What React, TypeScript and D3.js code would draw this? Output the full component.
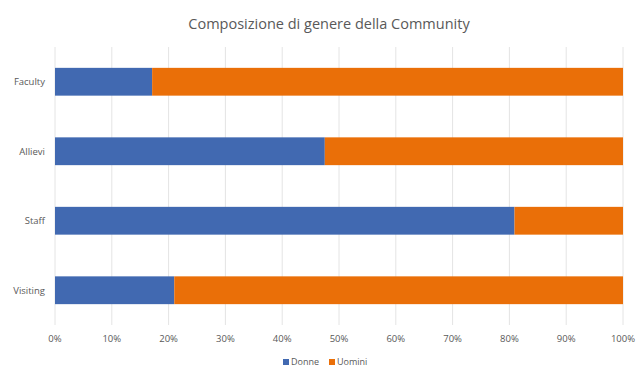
import React from "react";
import * as d3 from "d3";

const categories = ["Faculty", "Allievi", "Staff", "Visiting"];
const donne = [17.1, 47.5, 80.9, 21.0];
const uomini = [82.9, 52.5, 19.1, 79.0];
const seriesNames = ["Donne", "Uomini"];
const seriesColors = ["#4169B1", "#EA6F08"];
const ticks = [0, 10, 20, 30, 40, 50, 60, 70, 80, 90, 100];
const title = "Composizione di genere della Community";

export default function App() {
  const W = 636, H = 368;
  const x = d3.scaleLinear().domain([0, 100]).range([55, 623]);
  const y = d3.scaleBand().domain(categories).range([47, 325]).paddingInner(0.6).paddingOuter(0.3);
  const font = "'Open Sans', 'Noto Sans', sans-serif";
  const rows = categories.map((c, i) => ({ c, vals: [donne[i], uomini[i]] }));
  return (
    <svg width={W} height={H} style={{ position: "absolute", left: 0, top: 0, background: "#fff" }}>
      <text x={329} y={29} textAnchor="middle" fontFamily={font} fontSize={14.5} fill="#595959">{title}</text>
      {ticks.map((t) => (
        <line key={t} x1={x(t)} x2={x(t)} y1={47} y2={325} stroke="#E4E4E4" strokeWidth={1} />
      ))}
      {rows.map((r) => {
        let acc = 0;
        return (
          <g key={r.c}>
            {r.vals.map((v, k) => {
              const x0 = acc;
              acc += v;
              return (
                <rect key={k} x={x(x0)} y={y(r.c)!} width={x(acc) - x(x0)} height={y.bandwidth()}
                  fill={seriesColors[k]} />
              );
            })}
            <text x={45} y={y(r.c)! + y.bandwidth() / 2} dy="0.35em" textAnchor="end" fontFamily={font} fontSize={9.5} fill="#595959">{r.c}</text>
          </g>
        );
      })}
      {ticks.map((t) => (
        <text key={t} x={x(t)} y={339} dy="0.35em" textAnchor="middle" fontFamily={font} fontSize={9.5} fill="#595959">{t}%</text>
      ))}
      <g fontFamily={font} fontSize={9} fill="#595959">
        <rect x={283} y={359} width={6} height={6} fill={seriesColors[0]} />
        <text x={291} y={362} dy="0.35em">{seriesNames[0]}</text>
        <rect x={329} y={359} width={6} height={6} fill={seriesColors[1]} />
        <text x={337} y={362} dy="0.35em">{seriesNames[1]}</text>
      </g>
    </svg>
  );
}
